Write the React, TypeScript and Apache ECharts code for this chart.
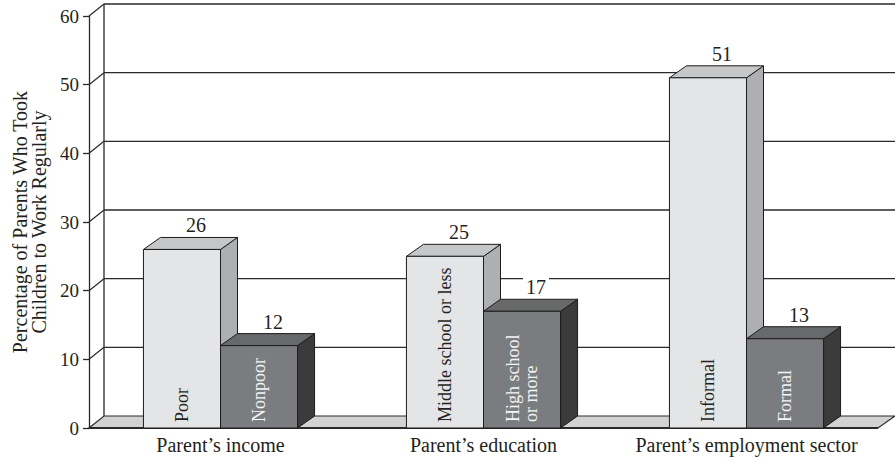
import React, { useEffect, useRef } from "react";
import * as echarts from "echarts";

const CATEGORIES = ["Parent\u2019s income", "Parent\u2019s education", "Parent\u2019s employment sector"];
const LIGHT_VALUES = [26, 25, 51];
const DARK_VALUES = [12, 17, 13];
const LIGHT_LABELS = ["Poor", "Middle school or less", "Informal"];
const DARK_LABELS = ["Nonpoor", "High school\nor more", "Formal"];
const Y_TICKS = [0, 10, 20, 30, 40, 50, 60];
const Y_TITLE = "Percentage of Parents Who Took\nChildren to Work Regularly";

const FONT = "'Liberation Serif', 'Times New Roman', serif";
const INK = "#231f20";
const WALL_DX = 15;
const WALL_DY = -12;
const BAR_DX = 17;
const BAR_DY = -12;

const LIGHT = { front: "#e4e5e7", top: "#c6c7c9", side: "#aeafb2", text: INK };
const DARK = { front: "#7b7c7f", top: "#68696b", side: "#3b3b3c", text: "#f4f4f4" };

function wallRender(params: any, api: any) {
  const cs = params.coordSys;
  const v = api.value(1);
  const y = api.coord([0, v])[1];
  const left = cs.x;
  const right = cs.x + cs.width;
  const children: any[] = [];
  if (v === 0) {
    const yTop = api.coord([0, Y_TICKS[Y_TICKS.length - 1]])[1];
    children.push({
      type: "polygon",
      shape: {
        points: [
          [left, y],
          [right, y],
          [right + BAR_DX, y + WALL_DY],
          [left + WALL_DX, y + WALL_DY],
        ],
      },
      style: { fill: "#d2d2d2", stroke: "#2a2a2a", lineWidth: 1.2 },
    });
    children.push({
      type: "line",
      shape: { x1: left, y1: y, x2: right, y2: y },
      style: { stroke: "#2a2a2a", lineWidth: 2 },
    });
    children.push({
      type: "line",
      shape: { x1: left + WALL_DX, y1: y + WALL_DY, x2: left + WALL_DX, y2: yTop + WALL_DY },
      style: { stroke: "#2a2a2a", lineWidth: 1.3 },
    });
  } else {
    children.push({
      type: "line",
      shape: { x1: left + WALL_DX, y1: y + WALL_DY, x2: right + BAR_DX + 2, y2: y + WALL_DY },
      style: { stroke: "#2a2a2a", lineWidth: 1.3 },
    });
    children.push({
      type: "line",
      shape: { x1: left, y1: y, x2: left + WALL_DX, y2: y + WALL_DY },
      style: { stroke: "#2a2a2a", lineWidth: 1.3 },
    });
  }
  return { type: "group", children };
}

function makeBarRender(side: "light" | "dark", labels: string[], colors: any) {
  return (params: any, api: any) => {
    const idx = api.value(0);
    const val = api.value(1);
    const [cx, yTop] = api.coord([idx, val]);
    const yBase = api.coord([idx, 0])[1];
    const band = api.size([1, 0])[0];
    const w = band * 0.293;
    const x0 = side === "light" ? cx - w : cx;
    const stroke = "#1c1c1c";
    const children: any[] = [
      {
        type: "polygon",
        shape: {
          points: [
            [x0 + w, yTop],
            [x0 + w + BAR_DX, yTop + BAR_DY],
            [x0 + w + BAR_DX, yBase + BAR_DY],
            [x0 + w, yBase],
          ],
        },
        style: { fill: colors.side, stroke, lineWidth: 1 },
      },
      {
        type: "polygon",
        shape: {
          points: [
            [x0, yTop],
            [x0 + w, yTop],
            [x0 + w + BAR_DX, yTop + BAR_DY],
            [x0 + BAR_DX, yTop + BAR_DY],
          ],
        },
        style: { fill: colors.top, stroke, lineWidth: 1 },
      },
      {
        type: "rect",
        shape: { x: x0, y: yTop, width: w, height: yBase - yTop },
        style: { fill: colors.front, stroke, lineWidth: 1 },
      },
      {
        type: "text",
        x: x0 + w / 2 + 14,
        y: yTop + BAR_DY - 2,
        style: {
          text: String(val),
          fill: INK,
          fontFamily: FONT,
          fontSize: 20,
          align: "center",
          verticalAlign: "bottom",
          backgroundColor: "#ffffff",
          padding: [0, 3, 0, 3],
        },
      },
      {
        type: "text",
        x: x0 + w / 2,
        y: yBase - 6,
        rotation: Math.PI / 2,
        style: {
          text: labels[params.dataIndex],
          fill: colors.text,
          fontFamily: FONT,
          fontSize: 18,
          lineHeight: 18,
          align: "left",
          verticalAlign: "middle",
        },
      },
    ];
    return { type: "group", children };
  };
}

export default function App() {
  const ref = useRef<HTMLDivElement>(null);
  useEffect(() => {
    if (!ref.current) return;
    const chart = echarts.init(ref.current, null, { renderer: "svg" });
    chart.setOption({
      animation: false,
      backgroundColor: "#ffffff",
      textStyle: { fontFamily: FONT },
      grid: { left: 89, right: 17, top: 16, bottom: 34, containLabel: false, outerBoundsMode: "none" },
      xAxis: {
        type: "category",
        data: CATEGORIES,
        axisLine: { show: false },
        axisTick: { show: false },
        axisLabel: { color: INK, fontFamily: FONT, fontSize: 20, margin: 7, interval: 0 },
        splitLine: { show: false },
      },
      yAxis: {
        type: "value",
        min: 0,
        max: 60,
        interval: 10,
        name: Y_TITLE,
        nameLocation: "middle",
        nameGap: 37,
        nameTextStyle: { color: INK, fontFamily: FONT, fontSize: 20, lineHeight: 19 },
        axisLine: { show: true, lineStyle: { color: "#2a2a2a", width: 1.3 } },
        axisTick: { show: true, length: 6, lineStyle: { color: "#2a2a2a", width: 1.3 } },
        axisLabel: { color: INK, fontFamily: FONT, fontSize: 19, margin: 10 },
        splitLine: { show: false },
      },
      series: [
        {
          type: "custom",
          name: "wall",
          clip: false,
          silent: true,
          data: Y_TICKS.map((v) => [0, v]),
          renderItem: wallRender,
        },
        {
          type: "custom",
          name: "light",
          clip: false,
          data: LIGHT_VALUES.map((v, i) => [i, v]),
          renderItem: makeBarRender("light", LIGHT_LABELS, LIGHT),
        },
        {
          type: "custom",
          name: "dark",
          clip: false,
          data: DARK_VALUES.map((v, i) => [i, v]),
          renderItem: makeBarRender("dark", DARK_LABELS, DARK),
        },
      ],
    });
    return () => chart.dispose();
  }, []);
  return (
    <div
      ref={ref}
      style={{ position: "absolute", left: 0, top: 0, width: 895, height: 462 }}
    />
  );
}
